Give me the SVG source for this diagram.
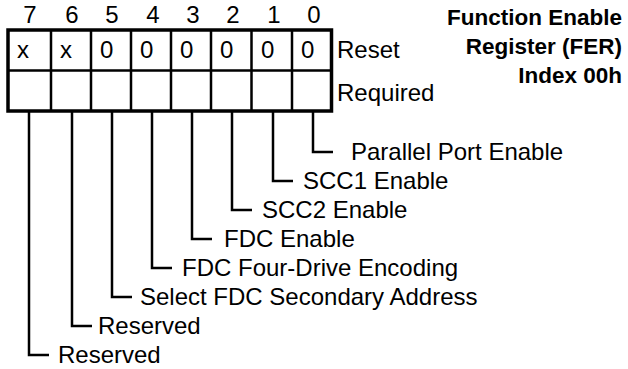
<svg xmlns="http://www.w3.org/2000/svg" width="628" height="369" viewBox="0 0 628 369">
<style>
text{font-family:"Liberation Sans",Arial,sans-serif;font-size:24px;fill:#000}
.t{font-weight:bold;text-anchor:end;font-size:22.5px}
.n{text-anchor:middle}
.c{fill:none;stroke:#000;stroke-width:2.5}
.o{fill:#fff;stroke:#000;stroke-width:3.5}
</style>
<rect width="628" height="369" fill="#fff"/>
<g id="title">
<text class="t" x="622" y="25">Function Enable</text>
<text class="t" x="622" y="54">Register (FER)</text>
<text class="t" x="622" y="83">Index 00h</text>
</g>
<g id="bitnumbers">
<text class="n" x="30" y="23">7</text>
<text class="n" x="72" y="23">6</text>
<text class="n" x="112" y="23">5</text>
<text class="n" x="153" y="23">4</text>
<text class="n" x="193" y="23">3</text>
<text class="n" x="233" y="23">2</text>
<text class="n" x="274" y="23">1</text>
<text class="n" x="314" y="23">0</text>
</g>
<g id="register">
<rect class="o" x="8" y="30" width="323.5" height="81"/>
<path class="c" d="M8 70.5H331.5M51 30V111M91 30V111M131 30V111M171 30V111M211 30V111M251.5 30V111M292 30V111"/>
<text x="17" y="58">x</text>
<text x="60" y="58">x</text>
<text x="100" y="58">0</text>
<text x="140" y="58">0</text>
<text x="180" y="58">0</text>
<text x="220" y="58">0</text>
<text x="261" y="58">0</text>
<text x="301" y="58">0</text>
<text x="337" y="58">Reset</text>
<text x="337" y="101">Required</text>
</g>
<g id="connectors">
<path class="c" d="M313 111V152H333M273 111V181H293M232 111V210H252M192 111V239H212M152 111V268H172M112 111V297H132M72 111V326H92M29 111V355H49"/>
</g>
<g id="labels">
<text x="351" y="160">Parallel Port Enable</text>
<text x="303" y="189">SCC1 Enable</text>
<text x="262" y="218">SCC2 Enable</text>
<text x="224" y="247">FDC Enable</text>
<text x="182" y="276">FDC Four-Drive Encoding</text>
<text x="140" y="305">Select FDC Secondary Address</text>
<text x="98" y="334">Reserved</text>
<text x="58" y="363">Reserved</text>
</g>
</svg>
